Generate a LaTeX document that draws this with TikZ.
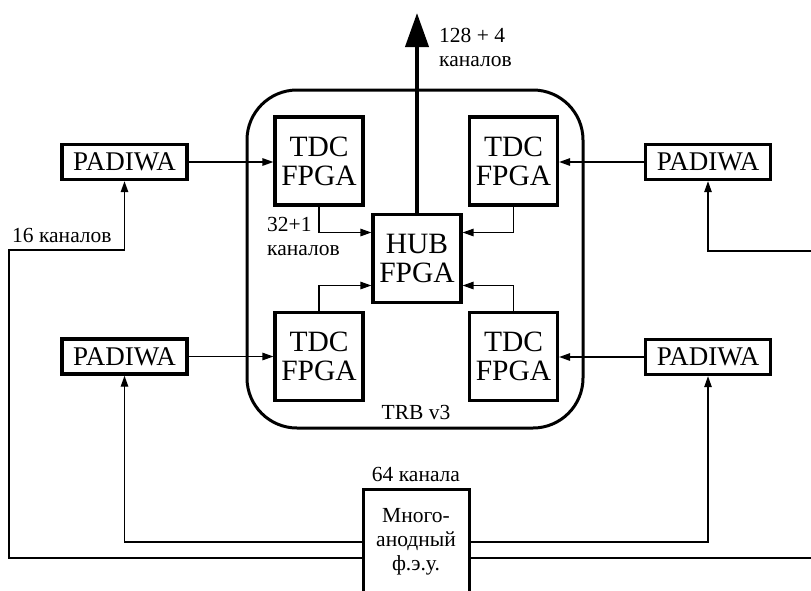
\documentclass[tikz,border=0pt]{standalone}
\usepackage{fontspec}
\setmainfont{Liberation Serif}
\usetikzlibrary{arrows.meta, positioning, calc}

\tikzset{
  fpga/.style={draw, line width=3.2pt, minimum size=88pt, inner sep=0pt, align=center, font=\fontsize{29.5}{29}\selectfont},
  padbox/.style={draw, line width=3.4pt, minimum width=125pt, minimum height=35pt, inner sep=0pt, font=\fontsize{27}{27}\selectfont},
  lbl/.style={font=\fontsize{21.5}{24}\selectfont, inner sep=0pt},
  sig/.style={-{Triangle[length=11pt,width=7.5pt]}, line width=1.3pt},
}

\begin{document}
\begin{tikzpicture}[x=1pt, y=-1pt]
  \useasboundingbox (0,0) rectangle (811,590);
  \clip (0,0) rectangle (811,590);
  % TRB board
  \node[draw, line width=3pt, rounded corners=50pt, minimum width=336pt, minimum height=338pt] (trb) at (415,259) {};
  \node[lbl] (trblbl) at (416,412) {TRB v3};
  \node[fpga] (tdcA) at (319,161) {TDC\\FPGA};
  \node[fpga] (tdcB) at (513.5,161) {TDC\\FPGA};
  \node[fpga] (tdcC) at (319,356.5) {TDC\\FPGA};
  \node[fpga] (tdcD) at (513.5,356.5) {TDC\\FPGA};
  \node[fpga] (hub) at (417,258.5) {HUB\\FPGA};
  \foreach \n/\x/\y in {padA/124.5/162, padB/124.5/356.5, padC/708/162, padD/708/357}
    \node[padbox] (\n) at (\x,\y) {PADIWA};
  \node[draw, line width=3pt, minimum width=106pt, minimum height=106pt, align=center, lbl] (pmt) at (416,542) {Много-\\анодный\\ф.э.у.};
  \node[lbl, above=6pt of pmt] (pmtlbl) {64 канала};
  \coordinate (loopL) at (9,250);
  \coordinate (loopR) at (820,251);
  \coordinate (out) at (417,13);

  % PADIWA -> TDC
  \draw[sig] (padA.east) -- (padA.east -| tdcA.west);
  \draw[sig] (padB.east) -- (padB.east -| tdcC.west);
  \draw[sig] (padC.west) -- (padC.west -| tdcB.east);
  \draw[sig] (padD.west) -- (padD.west -| tdcD.east);
  % TDC -> HUB
  \draw[sig] (tdcA.south) |- ([yshift=26pt]hub.west);
  \draw[sig] (tdcB.south) |- ([yshift=26pt]hub.east);
  \draw[sig] (tdcC.north) |- ([yshift=-27pt]hub.west);
  \draw[sig] (tdcD.north) |- ([yshift=-27pt]hub.east);
  \node[lbl, align=left, anchor=west] (chlbl) at (267,236) {32+1\\каналов};
  % output
  \draw[line width=4pt, -{Triangle[length=34pt,width=23pt]}] (hub.north) -- (out);
  \node[lbl, align=left, anchor=west] (outlbl) at (439,47.5) {128 + 4\\каналов};
  % PMT -> PADIWA
  \draw[sig] ([yshift=-16pt]pmt.west) -| (loopL) -| (padA.south);
  \draw[sig] (pmt.west) -| (padB.south);
  \draw[sig] (pmt.east) -| (padD.south);
  \draw[sig] ([yshift=-16pt]pmt.east) -| (loopR) -| (padC.south);
  \node[lbl, anchor=west] (padlbl) at (12,235) {16 каналов};
\end{tikzpicture}
\end{document}
